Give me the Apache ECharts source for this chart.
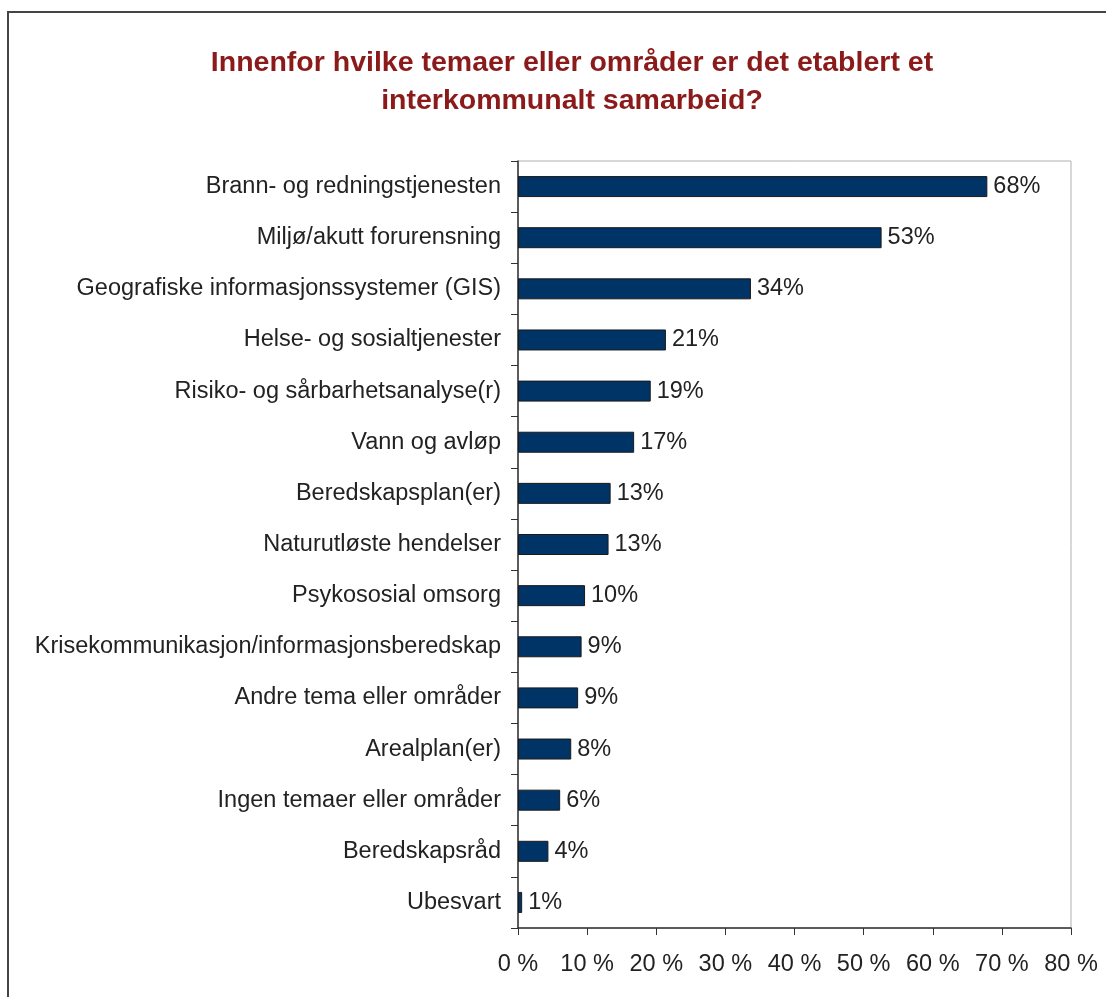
<!DOCTYPE html>
<html>
<head>
<meta charset="utf-8">
<script src="https://cdn.jsdelivr.net/npm/echarts@6/dist/echarts.min.js"></script>
<style>
  html, body { margin: 0; padding: 0; background: #fff; }
  #main { width: 1106px; height: 997px; }
</style>
</head>
<body>
<div id="main"></div>
<script>
// kategorier, ovenfra og ned
var categories = [
    'Brann- og redningstjenesten',
    'Miljø/akutt forurensning',
    'Geografiske informasjonssystemer (GIS)',
    'Helse- og sosialtjenester',
    'Risiko- og sårbarhetsanalyse(r)',
    'Vann og avløp',
    'Beredskapsplan(er)',
    'Naturutløste hendelser',
    'Psykososial omsorg',
    'Krisekommunikasjon/informasjonsberedskap',
    'Andre tema eller områder',
    'Arealplan(er)',
    'Ingen temaer eller områder',
    'Beredskapsråd',
    'Ubesvart'
];
// andel i prosent
var values = [67.9, 52.6, 33.7, 21.4, 19.2, 16.8, 13.4, 13.1, 9.7, 9.2, 8.7, 7.7, 6.1, 4.4, 0.6];
var xTicks = [0, 10, 20, 30, 40, 50, 60, 70, 80];

var myChart = echarts.init(document.getElementById('main'));

var option = {
    backgroundColor: '#fff',
    animation: false,
    textStyle: { fontFamily: 'Liberation Sans, Arial, sans-serif' },
    title: {
        text: 'Innenfor hvilke temaer eller områder er det etablert et\ninterkommunalt samarbeid?',
        left: 567,
        textAlign: 'center',
        top: 39,
        textStyle: {
            color: '#8b1a1a',
            fontSize: 28.5,
            fontWeight: 'bold',
            lineHeight: 38,
            fontFamily: 'Liberation Sans, Arial, sans-serif'
        }
    },
    graphic: [{
        type: 'rect',
        shape: { x: 8, y: 12, width: 1110, height: 1000 },
        style: { fill: 'none', stroke: '#444', lineWidth: 2 },
        silent: true
    }],
    grid: {
        left: 518,
        right: 35,
        top: 161,
        height: 767,
        show: true,
        borderColor: '#b0b0b0',
        borderWidth: 1
    },
    xAxis: {
        type: 'value',
        min: xTicks[0],
        max: xTicks[xTicks.length - 1],
        interval: 10,
        splitLine: { show: false },
        axisLine: { show: true, lineStyle: { color: '#333', width: 1.5 } },
        axisTick: { show: true, length: 7, lineStyle: { color: '#333' } },
        axisLabel: {
            margin: 25,
            fontSize: 23.5,
            color: '#222',
            formatter: function (v) { return v + ' %'; }
        }
    },
    yAxis: {
        type: 'category',
        inverse: true,
        data: categories,
        boundaryGap: true,
        axisLine: { show: true, lineStyle: { color: '#333', width: 1.5 } },
        axisTick: { show: true, length: 7, lineStyle: { color: '#333' } },
        axisLabel: { margin: 17, fontSize: 23.5, color: '#222' }
    },
    series: [{
        type: 'bar',
        data: values,
        barWidth: 21,
        itemStyle: { color: '#003366', borderColor: '#1a1a1a', borderWidth: 1 },
        label: {
            show: true,
            position: 'right',
            distance: 6,
            fontSize: 23.5,
            color: '#222',
            formatter: function (p) { return Math.round(p.value) + '%'; }
        }
    }]
};
myChart.setOption(option);
</script>
</body>
</html>
